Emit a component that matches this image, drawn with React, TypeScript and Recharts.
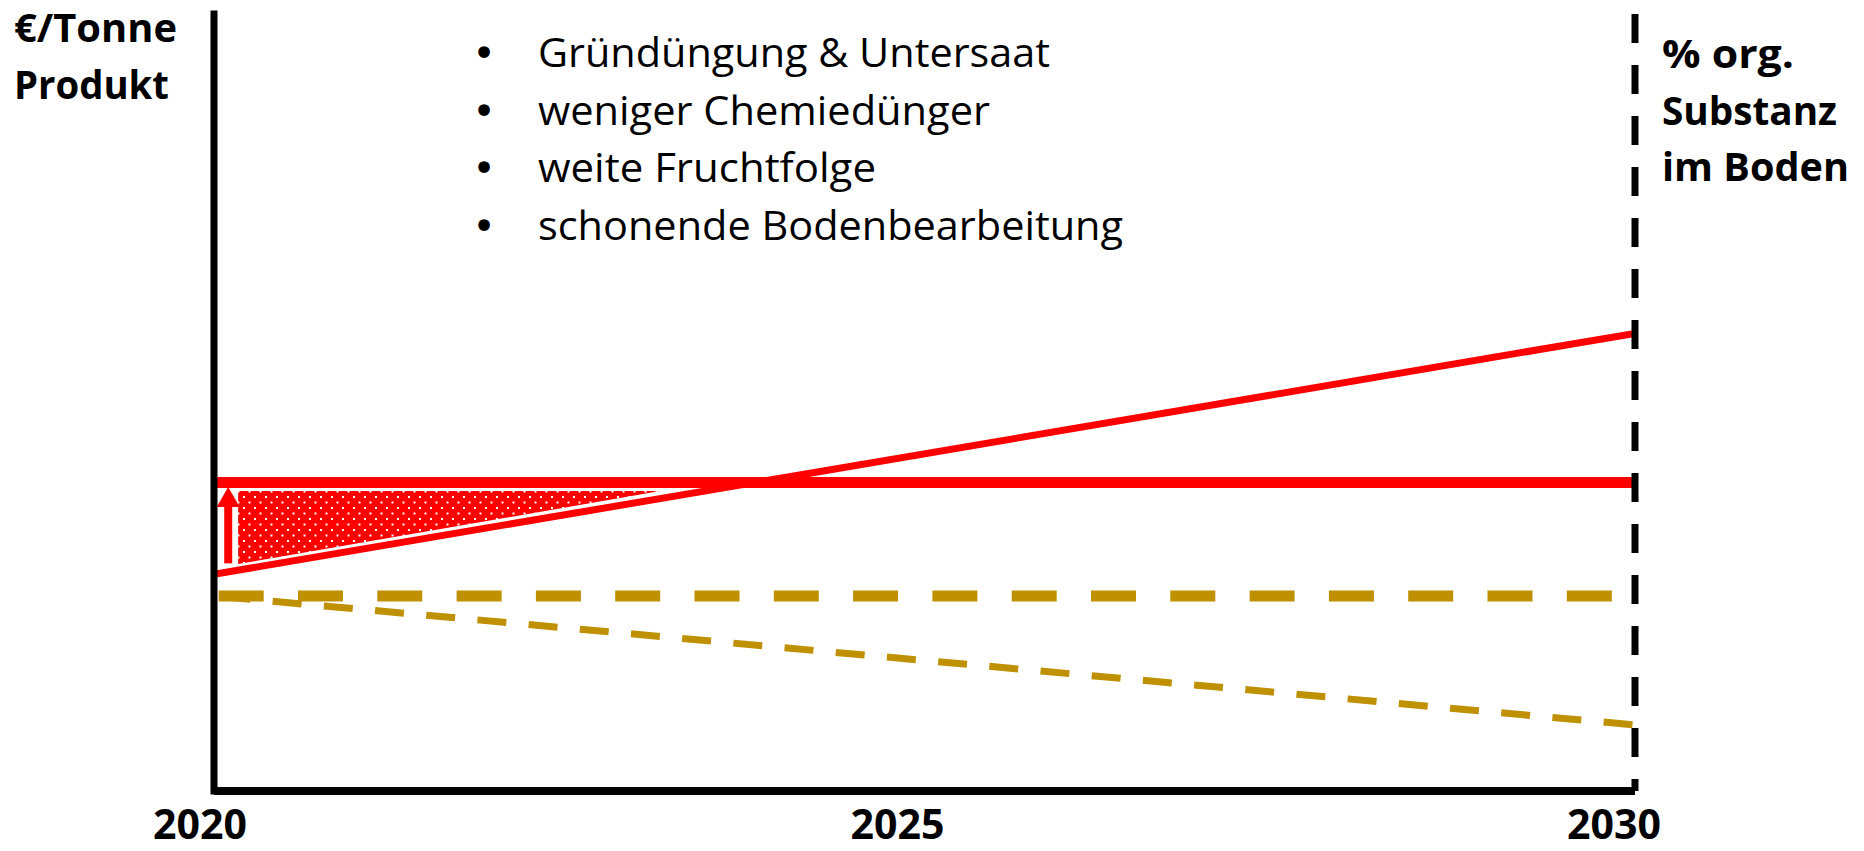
import React from 'react';
import { ComposedChart, Line, Area, XAxis, YAxis } from 'recharts';

// ---- data ----
const yearTicks = [2020, 2025, 2030];
const yearLabels = ['2020', '2025', '2030'];
// €/Tonne Produkt (index scale 0..100)
const costConventional = [{ x: 2020, y: 39.7 }, { x: 2030, y: 39.7 }];
const costRegenerative = [{ x: 2020, y: 27.9 }, { x: 2030, y: 58.9 }];
// % organische Substanz im Boden
const humusRegenerative = [{ x: 2020, y: 25.1 }, { x: 2030, y: 25.1 }];
const humusConventional = [{ x: 2020, y: 25.1 }, { x: 2030, y: 8.5 }];
// shaded cost gap & arrow
const costGap = [
  { x: 2020.17, range: [29.2, 38.6] },
  { x: 2023.14, range: [38.6, 38.6] },
];
const gapArrow = [{ x: 2020.1, y: 29.3 }, { x: 2020.1, y: 36.55 }];
// texts
const leftTitle = ['€/Tonne', 'Produkt'];
const rightTitle = ['% org.', 'Substanz', 'im Boden'];
const measures = [
  'Gründüngung & Untersaat',
  'weniger Chemiedünger',
  'weite Fruchtfolge',
  'schonende Bodenbearbeitung',
];

const RED = '#FF0000';
const GOLD = '#BF9000';
const FONT = "'Open Sans', 'Noto Sans', sans-serif";

const tickShift: Record<number, number> = { 2020: -14, 2025: -27, 2030: -21 };

function YearTick(props: any) {
  const { x, y, payload } = props;
  const i = yearTicks.indexOf(payload.value);
  return (
    <text
      x={x + (tickShift[payload.value] ?? 0)}
      y={y + 48}
      textAnchor="middle"
      fontFamily={FONT}
      fontWeight={700}
      fontSize={41}
      fill="#000"
      textLength={94}
      lengthAdjust="spacingAndGlyphs"
    >
      {yearLabels[i]}
    </text>
  );
}

const leftLens = [163, 155];
const rightLens = [132, 175, 187];
const measureLens = [512, 452, 338, 585];

export default function App() {
  return (
    <div style={{ position: 'absolute', left: 0, top: 0, width: 1864, height: 851, background: '#fff' }}>
      <ComposedChart width={1864} height={851} margin={{ top: 14, right: 228, bottom: 0, left: 213 }}>
        <defs>
          <pattern id="dotsFill" patternUnits="userSpaceOnUse" width="11" height="11">
            <rect width="11" height="11" fill={RED} />
            <rect x="1" y="1" width="2" height="2" fill="#fff" />
            <rect x="6.5" y="6.5" width="2" height="2" fill="#fff" />
          </pattern>
          <marker
            id="arrowHead"
            markerUnits="userSpaceOnUse"
            markerWidth="20"
            markerHeight="23"
            refX="0"
            refY="11.5"
            orient="auto"
            viewBox="0 0 20 23"
          >
            <path d="M0,0 L20,11.5 L0,23 Z" fill={RED} />
          </marker>
        </defs>
        <XAxis
          type="number"
          dataKey="x"
          domain={[2020, 2030]}
          ticks={yearTicks}
          interval={0}
          allowDataOverflow
          height={60}
          tickSize={0}
          tickMargin={0}
          tickLine={false}
          axisLine={{ stroke: '#000', strokeWidth: 8 }}
          tick={<YearTick />}
        />
        <YAxis
          yAxisId="left"
          type="number"
          domain={[0, 100]}
          width={1}
          tick={false}
          tickLine={false}
          axisLine={{ stroke: '#000', strokeWidth: 7, strokeLinecap: 'square' }}
        />
        <YAxis
          yAxisId="right"
          orientation="right"
          type="number"
          domain={[0, 100]}
          width={1}
          tick={false}
          tickLine={false}
          axisLine={{ stroke: '#000', strokeWidth: 7, strokeDasharray: '29 22' }}
        />
        <Area
          yAxisId="left"
          data={costGap}
          dataKey="range"
          type="linear"
          stroke="none"
          fill="url(#dotsFill)"
          fillOpacity={1}
          isAnimationActive={false}
          dot={false}
          activeDot={false}
        />
        <Line
          yAxisId="left"
          data={humusConventional}
          dataKey="y"
          type="linear"
          stroke={GOLD}
          strokeWidth={7}
          strokeDasharray="29 22.4"
          strokeDashoffset={43.9}
          dot={false}
          activeDot={false}
          isAnimationActive={false}
        />
        <Line
          yAxisId="left"
          data={humusRegenerative}
          dataKey="y"
          type="linear"
          stroke={GOLD}
          strokeWidth={11}
          strokeDasharray="45 34.3"
          strokeDashoffset={74.6}
          dot={false}
          activeDot={false}
          isAnimationActive={false}
        />
        <Line
          yAxisId="left"
          data={costConventional}
          dataKey="y"
          type="linear"
          stroke={RED}
          strokeWidth={11}
          dot={false}
          activeDot={false}
          isAnimationActive={false}
        />
        <Line
          yAxisId="left"
          data={costRegenerative}
          dataKey="y"
          type="linear"
          stroke={RED}
          strokeWidth={7}
          dot={false}
          activeDot={false}
          isAnimationActive={false}
        />
        <Line
          yAxisId="left"
          data={gapArrow}
          dataKey="y"
          type="linear"
          stroke={RED}
          strokeWidth={8}
          markerEnd="url(#arrowHead)"
          dot={false}
          activeDot={false}
          isAnimationActive={false}
        />
        <g fontFamily={FONT} fill="#000">
          {leftTitle.map((t, i) => (
            <text key={t} x={14} y={42 + i * 56.5} fontSize={40} fontWeight={700} textLength={leftLens[i]} lengthAdjust="spacingAndGlyphs">
              {t}
            </text>
          ))}
          {rightTitle.map((t, i) => (
            <text key={t} x={1662} y={68 + i * 56.5} fontSize={40} fontWeight={700} textLength={rightLens[i]} lengthAdjust="spacingAndGlyphs">
              {t}
            </text>
          ))}
          {measures.map((t, i) => (
            <g key={t}>
              <text x={484} y={67 + i * 57.5} fontSize={40} fontFamily="'DejaVu Sans', sans-serif" textAnchor="middle">•</text>
              <text x={538} y={67 + i * 57.5} fontSize={40} textLength={measureLens[i]} lengthAdjust="spacingAndGlyphs">
                {t}
              </text>
            </g>
          ))}
        </g>
      </ComposedChart>
    </div>
  );
}
